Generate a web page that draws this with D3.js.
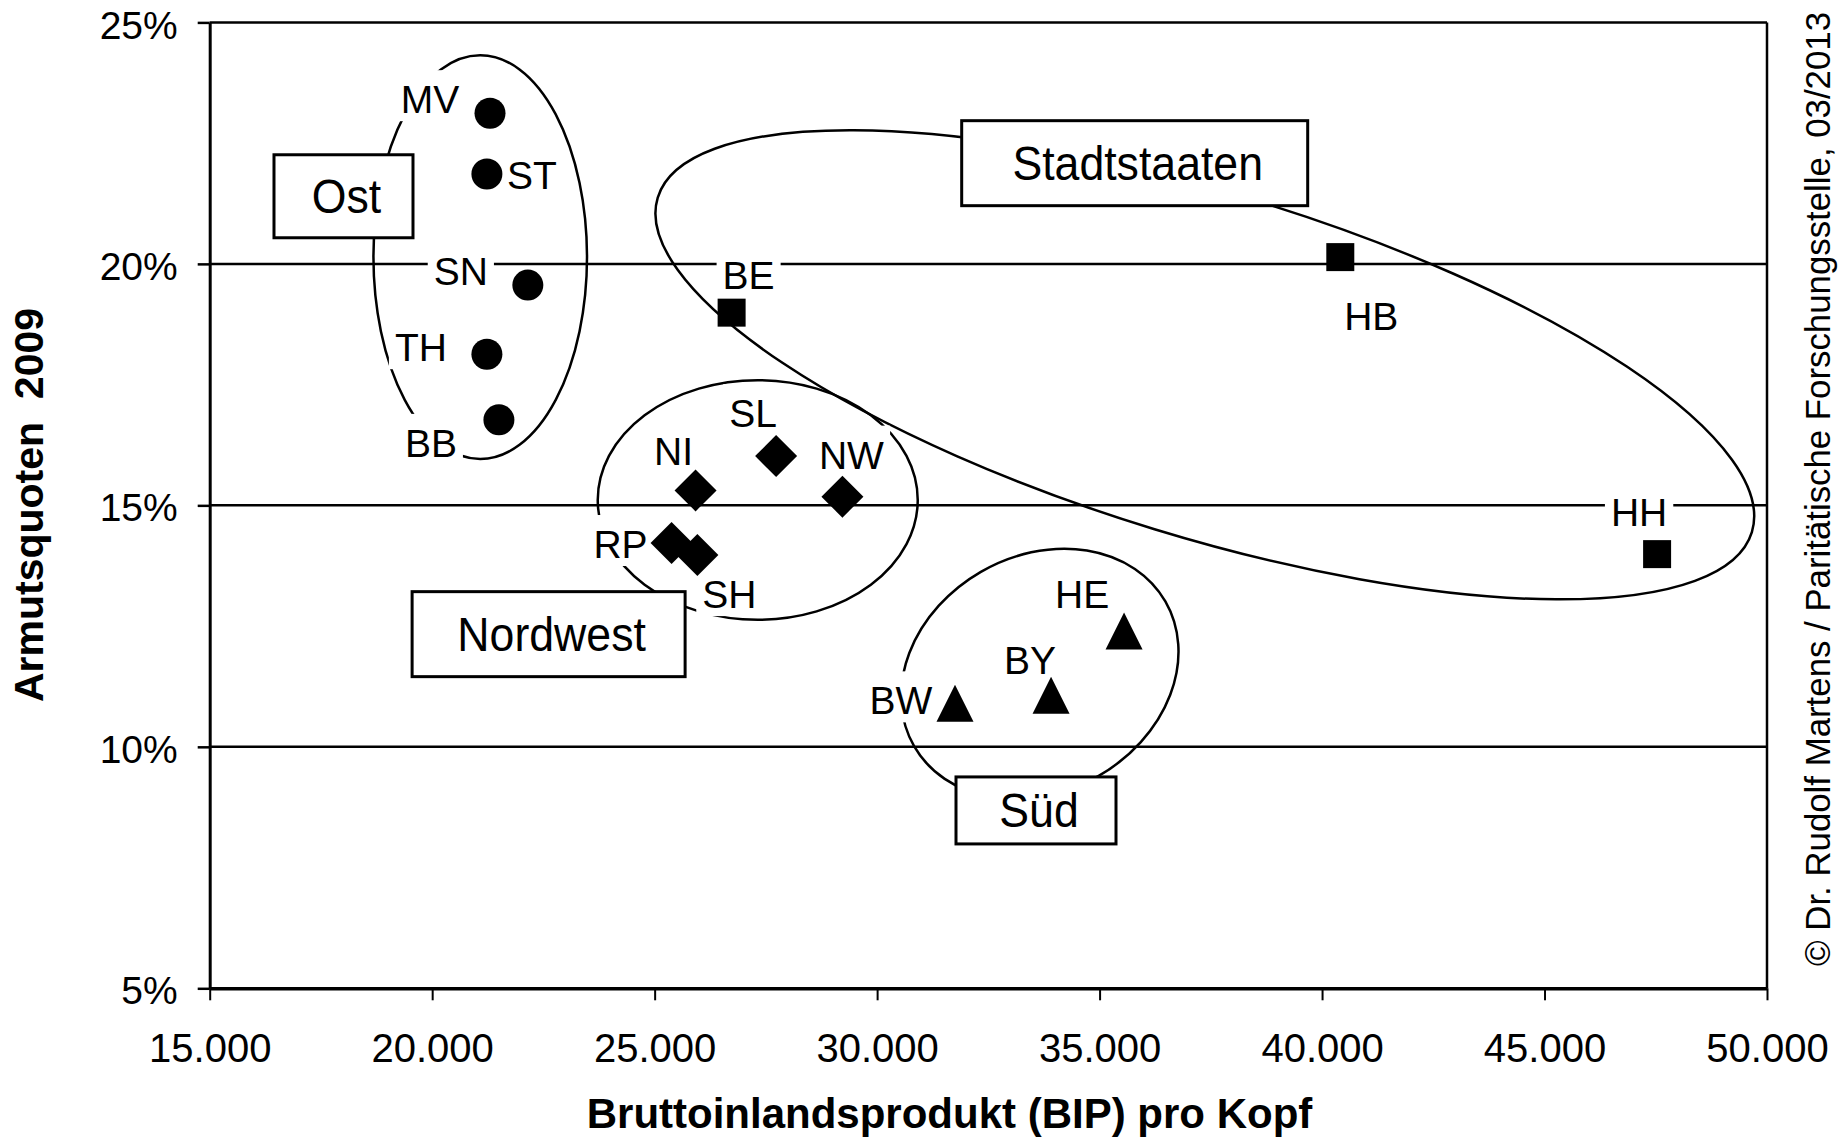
<!DOCTYPE html>
<html>
<head>
<meta charset="utf-8">
<script src="https://cdn.jsdelivr.net/npm/d3@7"></script>
<style>
  body { margin: 0; background: #fff; }
  svg { display: block; font-family: "Liberation Sans", Arial, sans-serif; }
</style>
</head>
<body>
<div id="chart"></div>
<script>
// --- data ---
const states  = ['MV', 'ST', 'SN', 'TH', 'BB', 'BE', 'HB', 'HH', 'NI', 'SL', 'NW', 'RP', 'SH', 'HE', 'BY', 'BW'];
const gdp     = [21300, 21230, 22150, 21230, 21500, 26730, 40410, 47530, 25920, 27730, 29220, 25380, 25960, 35550, 33910, 31750];
const poverty = [23.12, 21.86, 19.56, 18.13, 16.77, 18.99, 20.14, 13.99, 15.31, 16.02, 15.18, 14.22, 13.97, 12.40, 11.07, 10.90];
const region  = ['Ost', 'Ost', 'Ost', 'Ost', 'Ost', 'Stadtstaaten', 'Stadtstaaten', 'Stadtstaaten',
                 'Nordwest', 'Nordwest', 'Nordwest', 'Nordwest', 'Nordwest', 'Süd', 'Süd', 'Süd'];

const groups = ['Ost', 'Stadtstaaten', 'Nordwest', 'Süd'];
const xTicks = [15000, 20000, 25000, 30000, 35000, 40000, 45000, 50000];
const yTicks = [5, 10, 15, 20, 25];

const xTitle = 'Bruttoinlandsprodukt (BIP) pro Kopf';
const yTitle = 'Armutsquoten  2009';
const credit = '\u00A9 Dr. Rudolf Martens / Paritätische Forschungsstelle, 03/2013';

// --- annotation layout (group rings + boxes, label nudges) ---
const ringCx   = [21080, 37365, 27317, 33656];
const ringCy   = [20.14, 17.91, 15.11, 11.51];
const ringRx   = [2400, 12857, 3596, 3259];
const ringRy   = [4.18, 3.56, 2.48, 2.44];
const ringTilt = [0, 17, 0, -30];
const boxCx = [18007, 35789, 22617, 33571];
const boxCy = [21.40, 22.085, 12.333, 8.683];
const boxW  = [139, 346, 273, 160];
const boxH  = [83, 85, 85, 67];
const labelDx = [-60, 45, -67, -66, -68, 17, 31, -18, -22, -23, 9, -51, 32, -42, -21, -54];
const labelDy = [0, 15, 0, 7, 37, -24, 73, -28, -25, -29, -28, 15, 53, -23, -21, 11];

const width = 1847;
const height = 1139;
const margin = { top: 22.4, right: 80, bottom: 150.7, left: 209.7 };

const svg = d3.select('#chart')
              .append('svg')
              .attr('width', width)
              .attr('height', height);

const x = d3.scaleLinear()
            .domain([15000, 50000])
            .range([margin.left, width - margin.right]);

const y = d3.scaleLinear()
            .domain([5, 25])
            .range([height - margin.bottom, margin.top]);

const x0 = x.range()[0], x1 = x.range()[1];

// grid lines (also the top border)
svg.append('g')
   .selectAll('line')
   .data(yTicks.filter((d) => d > 5))
   .enter()
   .append('line')
   .attr('x1', x0)
   .attr('x2', x1)
   .attr('y1', (d) => y(d))
   .attr('y2', (d) => y(d))
   .attr('stroke', '#000')
   .attr('stroke-width', 2.5);

// right border
svg.append('line')
   .attr('x1', x1).attr('x2', x1)
   .attr('y1', y(25)).attr('y2', y(5))
   .attr('stroke', '#000')
   .attr('stroke-width', 2.5);

const thousands = (v) => d3.format(',')(v).replace(/,/g, '.');

const xAxis = svg.append('g')
                 .attr('transform', 'translate(0,' + y(5) + ')')
                 .call(d3.axisBottom(x).tickValues(xTicks).tickSize(12).tickSizeOuter(0)
                         .tickPadding(33).tickFormat(thousands));
xAxis.select('.domain').attr('stroke-width', 3.5);
xAxis.selectAll('.tick line').attr('stroke-width', 2);
xAxis.selectAll('.tick text')
     .attr('font-size', 40)
     .attr('font-family', '"Liberation Sans", Arial, sans-serif')
     .attr('fill', '#000');

const yAxis = svg.append('g')
                 .attr('transform', 'translate(' + x0 + ',0)')
                 .call(d3.axisLeft(y).tickValues(yTicks).tickSize(12).tickSizeOuter(0)
                         .tickPadding(20).tickFormat((d) => d + '%'));
yAxis.select('.domain').attr('stroke-width', 3);
yAxis.selectAll('.tick line').attr('stroke-width', 2.5);
yAxis.selectAll('.tick text')
     .attr('font-size', 39)
     .attr('dy', '0.4em')
     .attr('font-family', '"Liberation Sans", Arial, sans-serif')
     .attr('fill', '#000');

// axis titles
svg.append('text')
   .attr('x', 949.5)
   .attr('y', 1128)
   .attr('text-anchor', 'middle')
   .attr('font-size', 42)
   .attr('font-weight', 'bold')
   .text(xTitle);

svg.append('text')
   .attr('transform', 'translate(43,505) rotate(-90)')
   .attr('text-anchor', 'middle')
   .attr('font-size', 41)
   .attr('font-weight', 'bold')
   .style('white-space', 'pre')
   .text(yTitle);

svg.append('text')
   .attr('transform', 'translate(1830,966) rotate(-90)')
   .attr('font-size', 35)
   .attr('textLength', 954)
   .attr('lengthAdjust', 'spacingAndGlyphs')
   .text(credit);

// group rings
svg.append('g')
   .selectAll('ellipse')
   .data(groups)
   .enter()
   .append('ellipse')
   .attr('cx', (d, i) => x(ringCx[i]))
   .attr('cy', (d, i) => y(ringCy[i]))
   .attr('rx', (d, i) => x(ringCx[i] + ringRx[i]) - x(ringCx[i]))
   .attr('ry', (d, i) => y(ringCy[i] - ringRy[i]) - y(ringCy[i]))
   .attr('transform', (d, i) => 'rotate(' + ringTilt[i] + ',' + x(ringCx[i]) + ',' + y(ringCy[i]) + ')')
   .attr('fill', 'none')
   .attr('stroke', '#000')
   .attr('stroke-width', 2.5);

// point labels with white backgrounds
const points = states.map((s, i) => ({ name: s, gdp: gdp[i], rate: poverty[i], region: region[i], i }));

const labels = svg.append('g')
                  .selectAll('g')
                  .data(points)
                  .enter()
                  .append('g')
                  .attr('transform', (d) => 'translate(' + (x(d.gdp) + labelDx[d.i]) + ',' + (y(d.rate) + labelDy[d.i]) + ')');

labels.append('text')
      .attr('text-anchor', 'middle')
      .attr('font-size', 39)
      .text((d) => d.name);

labels.each(function () {
  const g = d3.select(this);
  const b = g.select('text').node().getBBox();
  g.insert('rect', 'text')
   .attr('x', b.x - 6)
   .attr('y', b.y - 8)
   .attr('width', b.width + 12)
   .attr('height', b.height + 8)
   .attr('fill', '#fff');
});

// markers
const triangle = {
  draw(ctx, size) {
    const h = Math.sqrt(size);
    ctx.moveTo(0, -h / 2);
    ctx.lineTo(h / 2, h / 2);
    ctx.lineTo(-h / 2, h / 2);
    ctx.closePath();
  }
};
const diamond = {
  draw(ctx, size) {
    const r = Math.sqrt(size) / 2;
    ctx.moveTo(0, -r);
    ctx.lineTo(r, 0);
    ctx.lineTo(0, r);
    ctx.lineTo(-r, 0);
    ctx.closePath();
  }
};

const shapeOf = (g) => {
  switch (g) {
    case 'Ost': return d3.symbol(d3.symbolCircle, Math.PI * 15.5 * 15.5);
    case 'Stadtstaaten': return d3.symbol(d3.symbolSquare, 28 * 28);
    case 'Nordwest': return d3.symbol(diamond, 42 * 42);
    default: return d3.symbol(triangle, 37 * 37);
  }
};

svg.append('g')
   .selectAll('path')
   .data(points)
   .enter()
   .append('path')
   .attr('d', (d) => shapeOf(d.region)())
   .attr('transform', (d) => 'translate(' + x(d.gdp) + ',' + y(d.rate) + ')')
   .attr('fill', '#000');

// group name boxes
const boxes = svg.append('g')
                 .selectAll('g')
                 .data(groups)
                 .enter()
                 .append('g')
                 .attr('transform', (d, i) => 'translate(' + x(boxCx[i]) + ',' + y(boxCy[i]) + ')');

boxes.append('rect')
     .attr('x', (d, i) => -boxW[i] / 2)
     .attr('y', (d, i) => -boxH[i] / 2)
     .attr('width', (d, i) => boxW[i])
     .attr('height', (d, i) => boxH[i])
     .attr('fill', '#fff')
     .attr('stroke', '#000')
     .attr('stroke-width', 3);

boxes.append('text')
     .attr('transform', 'translate(3,17) scale(0.93,1)')
     .attr('text-anchor', 'middle')
     .attr('font-size', 48)
     .text((d) => d);
</script>
</body>
</html>
